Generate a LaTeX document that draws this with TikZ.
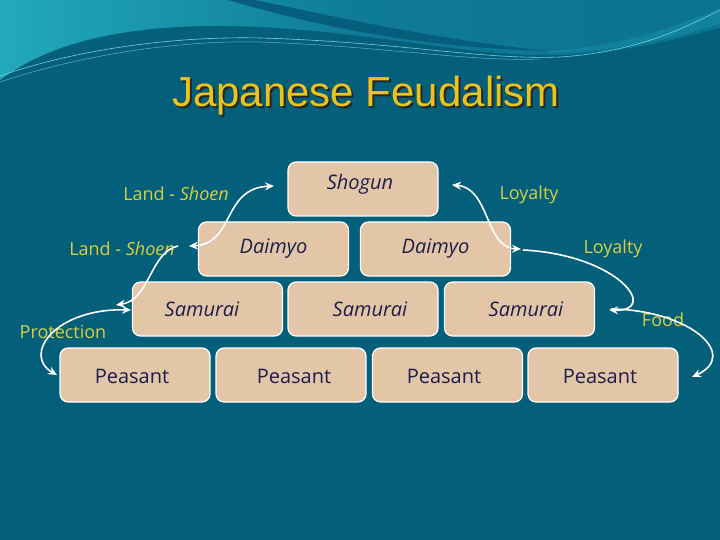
\documentclass[tikz,border=0pt]{standalone}
\usepackage{fontspec}
\setmainfont{Open Sans}
\newfontfamily\titlefont{Liberation Sans}
\usetikzlibrary{arrows.meta,shadings}
\definecolor{bgc}{HTML}{04607A}
\definecolor{topc}{HTML}{0B7390}
\definecolor{lightc}{HTML}{22A8BC}
\definecolor{stripec}{HTML}{075D7C}
\definecolor{linec}{HTML}{6FD3DC}
\definecolor{boxc}{HTML}{E3C5A8}
\definecolor{inkc}{HTML}{1C1F4A}
\definecolor{labc}{HTML}{D9CF3E}
\definecolor{titc}{HTML}{ECC21C}
\newcommand{\shadowtitle}[1]{\makebox[0pt][l]{\hspace{2pt}\raisebox{-2pt}{\textcolor{black!85}{#1}}}\textcolor{titc}{#1}}
\tikzset{
  box/.style={draw=white, line width=1.2pt, fill=boxc, rounded corners=8pt,
    minimum width=150pt, minimum height=54pt, inner sep=0pt, text=inkc,
    font=\fontsize{20}{22}\selectfont},
  boxtext/.style={text=inkc, font=\fontsize{20}{22}\selectfont, inner sep=0pt},
  lab/.style={text=labc, font=\fontsize{18}{20}\selectfont, inner sep=0pt},
  tip/.style={},
  conn/.style={draw=white, line width=1.6pt, -{Stealth[length=9pt,width=8pt,inset=3pt]}},
  dconn/.style={draw=white, line width=1.6pt, {Stealth[length=9pt,width=8pt,inset=3pt]}-{Stealth[length=9pt,width=8pt,inset=3pt]}}
}
\begin{document}
\begin{tikzpicture}[x=1pt,y=-1pt]
\useasboundingbox (0,0) rectangle (720,540);
% background
\fill[bgc] (0,0) rectangle (720,540);
\shade[left color=lightc, right color=topc, middle color=topc!85!lightc]
  (0,0) -- (0,80) .. controls (60,35) and (150,22) .. (260,27)
  .. controls (380,33) and (480,58) .. (560,55)
  .. controls (630,52) and (680,38) .. (720,28) -- (720,0) -- cycle;
\fill[stripec] (228,0) .. controls (330,30) and (430,48) .. (548,51)
  .. controls (440,40) and (340,18) .. (255,0) -- cycle;
\fill[topc!70!lightc] (548,51) .. controls (620,48) and (680,25) .. (720,8)
  -- (720,24) .. controls (680,36) and (620,52) .. (548,53) -- cycle;
\draw[linec, line width=0.6pt] (0,76) .. controls (80,48) and (180,36) .. (260,38)
  .. controls (400,42) and (480,60) .. (560,57) .. controls (640,52) and (690,25) .. (720,10);
\draw[linec!70!topc, line width=0.5pt] (0,82) .. controls (80,55) and (180,40) .. (260,42)
  .. controls (380,46) and (470,62) .. (540,59);
% title
\node[font=\titlefont\fontsize{42}{46}\selectfont, inner sep=0pt] (title) at (366,97) {\shadowtitle{Japanese Feudalism}};
% boxes
\node[box] (shogun) at (363,189) {};
\node[boxtext] (shoguntxt) at (360,184) {\itshape Shogun};
\node[box] (daimyoL) at (273.5,249) {\itshape Daimyo};
\node[box] (daimyoR) at (435.5,249) {\itshape Daimyo};
\node[box] (samL) at (207.5,309) {};
\node[box] (samM) at (363,309) {};
\node[box] (samR) at (519.5,309) {};
\node[boxtext] (samLt) at (202,309) {\itshape Samurai};
\node[boxtext] (samMt) at (370,309) {\itshape Samurai};
\node[boxtext] (samRt) at (526,309) {\itshape Samurai};
\node[box] (peaA) at (135,375) {};
\node[box] (peaB) at (291,375) {};
\node[box] (peaC) at (447.5,375) {};
\node[box] (peaD) at (603,375) {};
\node[boxtext] (peaAt) at (132,376) {Peasant};
\node[boxtext] (peaBt) at (294,376) {Peasant};
\node[boxtext] (peaCt) at (444,376) {Peasant};
\node[boxtext] (peaDt) at (600,376) {Peasant};
% labels
\node[lab] (land1) at (176,194) {Land - \textit{Shoen}};
\node[lab] (land2) at (122,249) {Land - \textit{Shoen}};
\node[lab] (loy1) at (529,195) {Loyalty};
\node[lab] (loy2) at (613,249) {Loyalty};
\node[lab] (prot) at (63,332) {Protection};
\node[lab] (food) at (663,320) {Food};
% connector end points
\coordinate (a1) at (189,246);
\coordinate (a2) at (274,186);
\coordinate (b1) at (178,246);
\coordinate (b2) at (116,305);
\coordinate (c1) at (131,310);
\coordinate (c2) at (57,375);
\coordinate (d1) at (452,185);
\coordinate (d2) at (521,249);
\coordinate (e1) at (523,250);
\coordinate (e2) at (609,310);
\coordinate (f1) at (611,309);
\coordinate (f2) at (692,377);
% connectors
\draw[dconn] (a1) .. controls (235,244) and (222,188) .. (a2);
\draw[conn] (b1) .. controls (150,252) and (150,300) .. (b2);
\draw[dconn] (c1) .. controls (55,308) and (22,355) .. (c2);
\draw[dconn] (d1) .. controls (490,188) and (485,248) .. (d2);
\draw[conn] (e1) .. controls (620,255) and (660,312) .. (e2);
\draw[conn] (f1) .. controls (690,310) and (740,355) .. (f2);
\end{tikzpicture}
\end{document}
